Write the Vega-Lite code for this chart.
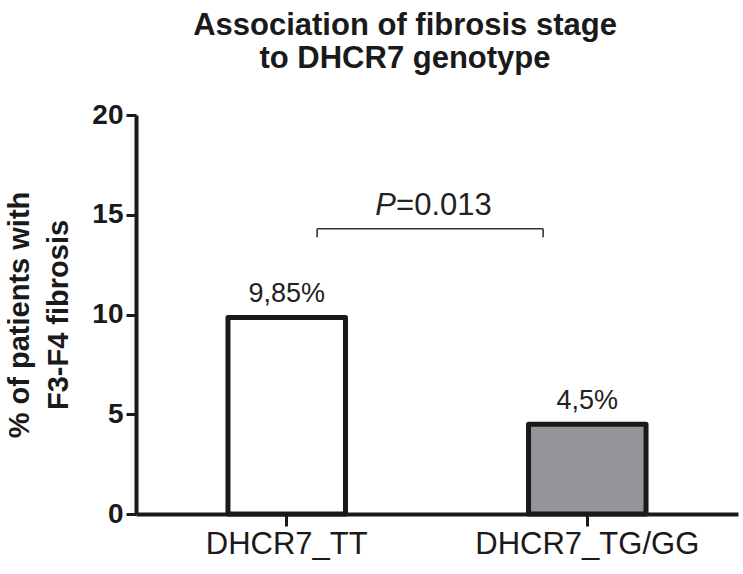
{
  "$schema": "https://vega.github.io/schema/vega-lite/v6.json",
  "width": 602,
  "height": 399,
  "autosize": "none",
  "padding": {"left": 136, "top": 115, "right": 5, "bottom": 60},
  "background": "white",
  "config": {"font": "Liberation Sans", "view": {"stroke": null}},
  "title": {
    "text": ["Association of fibrosis stage", "to DHCR7 genotype"],
    "fontSize": 31,
    "fontWeight": "bold",
    "color": "#1a1a1a",
    "lineHeight": 33,
    "anchor": "middle",
    "frame": "group",
    "dx": -32,
    "offset": 26
  },
  "datasets": {
    "bars": [
      {"genotype": "DHCR7_TT", "pct": 9.85, "label": "9,85%"},
      {"genotype": "DHCR7_TG/GG", "pct": 4.5, "label": "4,5%"}
    ],
    "bracket": [
      {"x": 0.104, "x2": 0.86, "pct": 14.3, "pct2": 14.3},
      {"x": 0.104, "x2": 0.104, "pct": 14.3, "pct2": 13.87},
      {"x": 0.86, "x2": 0.86, "pct": 14.3, "pct2": 13.87}
    ],
    "pLetter": [{"x": 0.368, "pct": 15, "t": "P"}],
    "pValue": [{"x": 0.368, "pct": 15, "t": "=0.013"}]
  },
  "layer": [
    {
      "data": {"name": "bars"},
      "layer": [
        {
          "mark": {"type": "bar", "stroke": "#1a1a1a", "strokeWidth": 5, "strokeJoin": "round"},
          "encoding": {
            "x": {
              "field": "genotype", "type": "nominal", "sort": null,
              "scale": {"paddingInner": 0.609, "paddingOuter": 0.306},
              "axis": {
                "title": null, "labelAngle": 0, "domainWidth": 4, "domainColor": "#1a1a1a",
                "ticks": true, "tickBand": "center", "tickWidth": 3, "tickColor": "#1a1a1a", "tickSize": 12,
                "labelFontSize": 31, "labelColor": "#1a1a1a", "labelPadding": 3, "labelLimit": 0
              }
            },
            "y": {
              "field": "pct", "type": "quantitative",
              "scale": {"domain": [0, 20], "nice": false},
              "axis": {
                "title": ["% of patients with", "F3-F4 fibrosis"],
                "values": [0, 5, 10, 15, 20], "grid": false,
                "domainWidth": 4, "domainColor": "#1a1a1a",
                "tickWidth": 3, "tickColor": "#1a1a1a", "tickSize": 10,
                "labelFontSize": 28, "labelFontWeight": "bold", "labelColor": "#1a1a1a", "labelPadding": 3,
                "titleFontSize": 29, "titleFontWeight": "bold", "titleColor": "#1a1a1a",
                "titleLineHeight": 39, "titleX": -102, "titleY": 199.5,
                "titleAlign": "center", "titleBaseline": "bottom", "titleAngle": -90
              }
            },
            "fill": {
              "field": "genotype", "type": "nominal",
              "scale": {"domain": ["DHCR7_TT", "DHCR7_TG/GG"], "range": ["#ffffff", "#939598"]},
              "legend": null
            }
          }
        },
        {
          "mark": {"type": "text", "dy": -15, "baseline": "alphabetic", "fontSize": 27, "color": "#222222"},
          "encoding": {
            "x": {"field": "genotype", "type": "nominal", "sort": null},
            "y": {"field": "pct", "type": "quantitative"},
            "text": {"field": "label"}
          }
        }
      ]
    },
    {
      "data": {"name": "bracket"},
      "mark": {"type": "rule", "color": "#333333", "strokeWidth": 1.6},
      "encoding": {
        "x": {"field": "x", "type": "quantitative", "scale": {"domain": [-0.502, 1.512], "nice": false, "zero": false}, "axis": null},
        "x2": {"field": "x2"},
        "y": {"field": "pct", "type": "quantitative"},
        "y2": {"field": "pct2"}
      }
    },
    {
      "data": {"name": "pLetter"},
      "mark": {"type": "text", "align": "right", "baseline": "alphabetic", "fontSize": 31, "fontStyle": "italic", "color": "#222222"},
      "encoding": {
        "x": {"field": "x", "type": "quantitative", "scale": {"domain": [-0.502, 1.512], "nice": false, "zero": false}, "axis": null},
        "y": {"field": "pct", "type": "quantitative"},
        "text": {"field": "t"}
      }
    },
    {
      "data": {"name": "pValue"},
      "mark": {"type": "text", "align": "left", "baseline": "alphabetic", "fontSize": 31, "color": "#222222"},
      "encoding": {
        "x": {"field": "x", "type": "quantitative", "scale": {"domain": [-0.502, 1.512], "nice": false, "zero": false}, "axis": null},
        "y": {"field": "pct", "type": "quantitative"},
        "text": {"field": "t"}
      }
    }
  ],
  "resolve": {"scale": {"x": "independent"}}
}
